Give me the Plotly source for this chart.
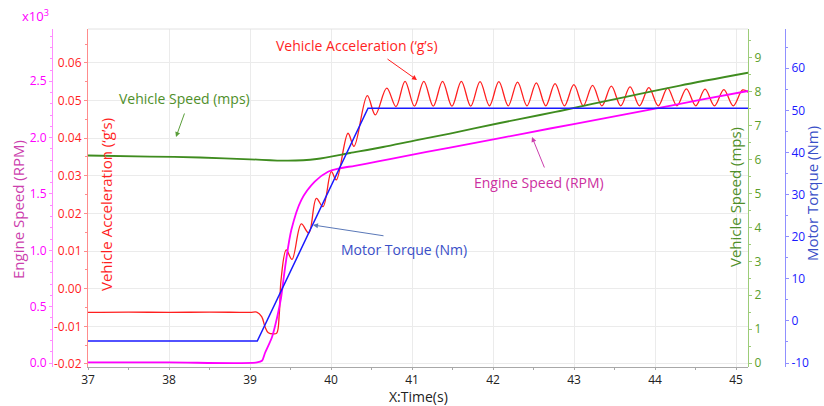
import plotly.graph_objects as go

# ---------------- data ----------------
time_accel = [37.0, 37.5, 38.0, 38.5, 39.0,
              39.083, 39.144, 39.185, 39.226, 39.288, 39.330, 39.362, 39.383,
              39.448, 39.519, 39.633, 39.725, 39.819, 39.901, 40.004, 40.065,
              40.210, 40.284, 40.448, 40.547, 40.688, 40.802,
              40.914, 41.030, 41.146, 41.262, 41.377, 41.493, 41.609, 41.725,
              41.840, 41.956, 42.072, 42.188, 42.303, 42.419, 42.535, 42.651,
              42.766, 42.882, 42.998, 43.114, 43.229, 43.345, 43.461, 43.577,
              43.692, 43.808, 43.924, 44.040, 44.155, 44.271, 44.387, 44.503,
              44.618, 44.734, 44.850, 44.966, 45.081, 45.150]
accel_g = [-0.0063, -0.0062, -0.0063, -0.0062, -0.0063,
           -0.0062, -0.0074, -0.0101, -0.0117, -0.0120, -0.0118, -0.0065, 0.0023,
           0.0103, 0.0078, 0.0172, 0.0148, 0.0240, 0.0218, 0.0311, 0.0289,
           0.0413, 0.0378, 0.0513, 0.0462, 0.0533, 0.0484,
           0.0551, 0.0485, 0.0551, 0.0485, 0.0551, 0.0485, 0.0551, 0.0485,
           0.0550, 0.0486, 0.0550, 0.0486, 0.0549, 0.0486, 0.0547, 0.0486,
           0.0545, 0.0486, 0.0542, 0.0486, 0.0540, 0.0486, 0.0538, 0.0486,
           0.0536, 0.0486, 0.0534, 0.0486, 0.0533, 0.0486, 0.0531, 0.0486,
           0.0530, 0.0486, 0.0529, 0.0486, 0.0528, 0.0522]

time_engine = [37.0, 38.0, 39.086, 39.148, 39.185, 39.272, 39.333, 39.383, 39.432,
               39.510, 39.633, 39.799, 39.963, 40.107, 40.293, 40.580, 40.852,
               41.469, 42.086, 42.704, 43.321, 43.938, 44.556, 45.148]
engine_krpm = [0.005, 0.005, 0.005, 0.02, 0.089, 0.231, 0.40, 0.577, 0.843,
               1.180, 1.446, 1.609, 1.697, 1.728, 1.750, 1.789, 1.828,
               1.912, 1.996, 2.081, 2.165, 2.249, 2.334, 2.414]

time_speed = [37.0, 37.765, 38.383, 39.0, 39.469, 39.823, 40.235, 40.642, 41.058,
              41.469, 42.086, 42.580, 42.827, 43.568, 44.309, 45.148]
speed_mps = [6.121, 6.091, 6.062, 6.009, 5.968, 6.018, 6.195, 6.372, 6.578,
             6.770, 7.080, 7.316, 7.434, 7.817, 8.186, 8.563]

time_torque = [37.0, 39.09, 40.457, 45.148]
torque_nm = [-4.8, -4.8, 50.5, 50.5]

x_ticks = [37, 38, 39, 40, 41, 42, 43, 44, 45]
x_labels = ["37", "38", "39", "40", "41", "42", "43", "44", "45"]
accel_ticks = [-0.02, -0.01, 0.0, 0.01, 0.02, 0.03, 0.04, 0.05, 0.06]
accel_labels = ["-0.02", "-0.01", "0.00", "0.01", "0.02", "0.03", "0.04", "0.05", "0.06"]
engine_ticks = [0.0, 0.5, 1.0, 1.5, 2.0, 2.5]
engine_labels = ["0.0", "0.5", "1.0", "1.5", "2.0", "2.5"]
speed_ticks = [0, 1, 2, 3, 4, 5, 6, 7, 8, 9]
speed_labels = ["0", "1", "2", "3", "4", "5", "6", "7", "8", "9"]
torque_ticks = [-10, 0, 10, 20, 30, 40, 50, 60]
torque_labels = ["-10", "0", "10", "20", "30", "40", "50", "60"]

# ---------------- layout geometry (pixels) ----------------
W, H = 824, 406
L, R, T, B = 88, 748, 29, 367
FONT = "Open Sans"

def xp(p):
    return p / W

def yp(p):
    return (B - p) / (B - T)

RED = "#ff1f1f"
MAG = "#ff00ff"
GRN_LINE = "#3f8c1f"
GRN_TXT = "#5a9e2a"
BLU = "#1a1aff"

fig = go.Figure()
fig.add_trace(go.Scatter(x=time_accel, y=accel_g, mode="lines", yaxis="y",
                         line=dict(color=RED, width=1.3, shape="spline", smoothing=1.0)))
fig.add_trace(go.Scatter(x=time_torque, y=torque_nm, mode="lines", yaxis="y4",
                         line=dict(color=BLU, width=1.5)))
fig.add_trace(go.Scatter(x=time_speed, y=speed_mps, mode="lines", yaxis="y3",
                         line=dict(color=GRN_LINE, width=1.8, shape="spline", smoothing=0.8)))
fig.add_trace(go.Scatter(x=time_engine, y=engine_krpm, mode="lines", yaxis="y2",
                         line=dict(color=MAG, width=1.8, shape="spline", smoothing=0.8)))

def tickfont(c, s=12):
    return dict(family=FONT, size=s, color=c)

fig.update_layout(
    width=W, height=H,
    margin=dict(l=0, r=0, t=T, b=H - B, pad=0, autoexpand=False),
    plot_bgcolor="white", paper_bgcolor="white",
    showlegend=False,
    xaxis=dict(domain=[xp(L), xp(R)], range=[37, 45.148], automargin=False,
               tickmode="array", tickvals=x_ticks, ticktext=x_labels,
               tickfont=tickfont("#222222", 12),
               showgrid=True, gridcolor="#ebebeb", gridwidth=1,
               showline=True, linecolor="#a8a8a8", linewidth=1,
               ticks="outside", ticklen=2, tickcolor="#a8a8a8",
               minor=dict(dtick=0.5, tick0=37, ticks="outside", ticklen=2,
                          tickcolor="#a8a8a8", showgrid=False),
               zeroline=False),
    yaxis=dict(range=[-0.0208, 0.069], anchor="x", side="left", automargin=False,
               tickmode="array", tickvals=accel_ticks, ticktext=accel_labels,
               tickfont=tickfont(RED),
               showgrid=True, gridcolor="#ebebeb", gridwidth=1,
               showline=True, linecolor="#ff8c8c", linewidth=1,
               ticks="outside", ticklen=3, tickcolor="#ff8c8c",
               minor=dict(dtick=0.005, tick0=0, ticks="outside", ticklen=2,
                          tickcolor="#ff8c8c", showgrid=False),
               zeroline=False),
    yaxis2=dict(range=[-0.0355, 2.964], overlaying="y", anchor="free", automargin=False,
                position=xp(52), side="left",
                tickmode="array", tickvals=engine_ticks, ticktext=engine_labels,
                tickfont=tickfont(MAG),
                showgrid=False, showline=True, linecolor="#ff8cff", linewidth=1,
                ticks="outside", ticklen=3, tickcolor="#ff8cff",
                minor=dict(dtick=0.1, tick0=0, ticks="outside", ticklen=2,
                           tickcolor="#ff8cff", showgrid=False),
                zeroline=False),
    yaxis3=dict(range=[-0.118, 9.853], overlaying="y", anchor="free", automargin=False,
                position=xp(R), side="right",
                tickmode="array", tickvals=speed_ticks, ticktext=speed_labels,
                tickfont=tickfont(GRN_TXT),
                showgrid=False, showline=True, linecolor="#9ccc78", linewidth=1,
                ticks="outside", ticklen=3, tickcolor="#9ccc78",
                minor=dict(dtick=0.5, tick0=0, ticks="outside", ticklen=2,
                           tickcolor="#9ccc78", showgrid=False),
                zeroline=False),
    yaxis4=dict(range=[-10.95, 69.33], overlaying="y", anchor="free", automargin=False,
                position=xp(785), side="right",
                tickmode="array", tickvals=torque_ticks, ticktext=torque_labels,
                tickfont=tickfont(BLU),
                showgrid=False, showline=True, linecolor="#9090ff", linewidth=1,
                ticks="outside", ticklen=3, tickcolor="#9090ff",
                minor=dict(dtick=5, tick0=0, ticks="outside", ticklen=2,
                           tickcolor="#9090ff", showgrid=False),
                zeroline=False),
)

fig.add_shape(type="line", xref="paper", yref="paper",
              x0=xp(L), x1=xp(R), y0=1, y1=1, line=dict(color="#e2e2e2", width=1))

ann = []
def txt(text, x, y, color, size=14, angle=0):
    ann.append(dict(text=text, x=xp(x), y=yp(y), xref="paper", yref="paper",
                    showarrow=False, textangle=angle, xanchor="center", yanchor="middle",
                    font=dict(family=FONT, size=size, color=color)))

def arrow(hx, hy, tx, ty, color):
    ann.append(dict(text="", x=xp(hx), y=yp(hy), xref="paper", yref="paper",
                    ax=tx - hx, ay=ty - hy, showarrow=True, arrowhead=2,
                    arrowsize=1, arrowwidth=1, arrowcolor=color,
                    standoff=0, startstandoff=0))

# axis titles
txt("Engine Speed (RPM)", 18, 210, "#cc3fae", 15, -90)
txt("x10<sup>3</sup>", 35, 15, MAG, 13)
txt("Vehicle Acceleration (‘g’s)", 106, 205, "#ff1f1f", 15, -90)
txt("Vehicle Speed (mps)", 735, 197, "#4f8f2a", 15, -90)
txt("Motor Torque (Nm)", 812, 194, "#3a4fc8", 15, -90)
txt("X:Time(s)", 418, 396, "#222222", 14)

# series labels with arrows
txt("Vehicle Acceleration (‘g’s)", 357, 45, "#ff1f1f", 14)
arrow(417, 80, 386, 58, "#ff1f1f")
txt("Vehicle Speed (mps)", 184, 98, "#4f8f2a", 14)
arrow(176, 137, 185, 112, "#5a9e3a")
txt("Engine Speed (RPM)", 539, 182, "#cc2fa0", 14)
arrow(532, 137, 545, 169, "#cc3fae")
txt("Motor Torque (Nm)", 404, 249, "#3a4fc8", 14)
arrow(313, 225, 385, 236, "#5a78b8")

fig.update_layout(annotations=ann)
fig.write_html("out.html", config={"displayModeBar": False},
               post_script="document.body.style.margin='0';document.body.style.overflow='hidden';")
